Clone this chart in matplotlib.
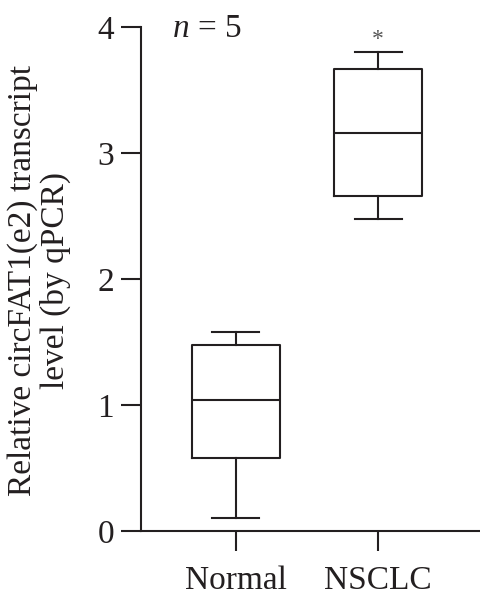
import matplotlib
matplotlib.use('Agg')
import matplotlib.pyplot as plt

# values
groups = ['Normal', 'NSCLC']
mins = [0.10, 2.48]
q1s = [0.58, 2.66]
medians = [1.04, 3.16]
q3s = [1.48, 3.67]
maxs = [1.58, 3.80]

plt.rcParams['font.family'] = ['Liberation Serif', 'DejaVu Serif']
plt.rcParams['mathtext.fontset'] = 'custom'
plt.rcParams['mathtext.it'] = 'Liberation Serif:italic'
plt.rcParams['mathtext.rm'] = 'Liberation Serif'
ink = '#231f20'
fs = 24

fig = plt.figure(figsize=(4.81, 6.04), dpi=100)
ax = fig.add_axes([0.2931, 0.1209, 0.7069, 0.8344])

stats = []
for i, name in enumerate(groups):
    stats.append({'label': name, 'whislo': mins[i], 'q1': q1s[i], 'med': medians[i],
                  'q3': q3s[i], 'whishi': maxs[i], 'fliers': []})

lw = 1.5
ax.bxp(stats, positions=[0, 1], widths=0.62, showfliers=False,
       boxprops=dict(color=ink, linewidth=lw),
       medianprops=dict(color=ink, linewidth=lw),
       whiskerprops=dict(color=ink, linewidth=lw),
       capprops=dict(color=ink, linewidth=lw),
       capwidths=0.33)

ax.set_xlim(-0.667, 1.722)
ax.set_ylim(0, 4)
ax.set_yticks([0, 1, 2, 3, 4])
ax.set_xticks([0, 1])
ax.set_xticklabels(groups)

for side in ['top', 'right']:
    ax.spines[side].set_visible(False)
for side in ['left', 'bottom']:
    ax.spines[side].set_linewidth(lw)
    ax.spines[side].set_color(ink)

ax.tick_params(axis='both', direction='out', length=14.5, width=lw, color=ink,
               labelsize=fs, labelcolor=ink)
ax.tick_params(axis='y', pad=5)
ax.tick_params(axis='x', pad=10)

fig.text(0.081, 0.535, 'Relative circFAT1(e2) transcript\nlevel (by qPCR)', fontsize=fs,
         color=ink, linespacing=1.1, rotation=90, ha='center', va='center',
         multialignment='center')

ax.text(-0.45, 3.99, '$n$ = 5', fontsize=fs, color=ink, ha='left', va='center',
        clip_on=False)
ax.text(1, maxs[1] + 0.02, '*', fontsize=17, color='#555555', ha='center', va='bottom')

fig.savefig('out.png', dpi=100)
